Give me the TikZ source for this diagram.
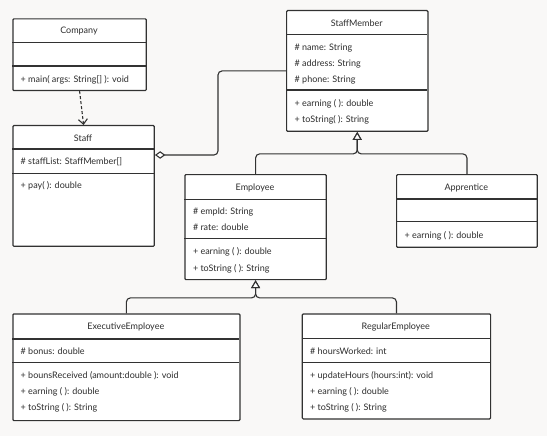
\documentclass[tikz,border=0pt]{standalone}
\usepackage{fontspec}
\setmainfont{Lato}
\usetikzlibrary{arrows.meta,positioning}
\definecolor{umlline}{RGB}{50,50,50}
\definecolor{umltext}{RGB}{45,45,45}
\definecolor{umlbg}{RGB}{249,248,247}
\tikzset{
  classbox/.style={draw=umlline, fill=white, line width=1.2pt, rounded corners=1pt, inner sep=0pt, anchor=north west},
  classname/.style={text=umltext, font=\fontsize{9}{10}\selectfont, inner sep=0pt, text height=1.5ex, text depth=0.3ex},
  member/.style={classname, anchor=west},
  divider/.style={draw=umlline, line width=1.2pt},
  link/.style={draw=umlline, line width=1.1pt, rounded corners=4pt},
}

\begin{document}
\begin{tikzpicture}[x=1pt,y=-1pt]
        \fill[umlbg] (0,0) rectangle (547,436);
        \useasboundingbox (0,0) rectangle (547,436);

        % Company
        \node[classbox, minimum width=133.4pt, minimum height=71.7pt] (company) at (12.3,18.3) {};
        \node[classname] (companyname) at (79,30.5) {Company};
        \draw[divider] (12.3,42.7) -- (145.7,42.7);
        \draw[divider] (12.3,66) -- (145.7,66);
        \node[member] (companyop) at (20.5,79.7) {+ main( args: String[] ): void};

        % Staff
        \node[classbox, minimum width=141.4pt, minimum height=120.7pt] (staff) at (12.3,125) {};
        \node[classname] (staffname) at (83,138) {Staff};
        \draw[divider] (12.3,149) -- (153.7,149);
        \draw[divider] (12.3,173.3) -- (153.7,173.3);
        \node[member] (staffattr) at (20.5,161.3) {\# staffList: StaffMember[]};
        \node[member] (staffop) at (20.5,185.7) {+ pay( ): double};

        % StaffMember
        \node[classbox, minimum width=141.3pt, minimum height=120.7pt] (staffmember) at (286,10) {};
        \node[classname] (staffmembername) at (356.7,23.3) {StaffMember};
        \draw[divider] (286,34.3) -- (427.3,34.3);
        \draw[divider] (286,90) -- (427.3,90);
        \foreach \txt [count=\i] in {\# name: String, \# address: String, \# phone: String}
            \node[member] (smattr\i) at (294.5,31.7+15.8*\i) {\txt};
        \foreach \txt [count=\i] in {+ earning ( ): double, + toString( ): String}
            \node[member] (smop\i) at (294.5,87.4+16*\i) {\txt};

        % Employee
        \node[classbox, minimum width=141.4pt, minimum height=105pt] (employee) at (184.3,174) {};
        \node[classname] (employeename) at (255,187.7) {Employee};
        \draw[divider] (184.3,199.3) -- (325.7,199.3);
        \draw[divider] (184.3,238.3) -- (325.7,238.3);
        \foreach \txt [count=\i] in {\# empId: String, \# rate: double}
            \node[member] (empattr\i) at (192.8,194.5+16.5*\i) {\txt};
        \foreach \txt [count=\i] in {+ earning ( ): double, + toString ( ): String}
            \node[member] (empop\i) at (192.8,235.3+16.4*\i) {\txt};

        % Apprentice
        \node[classbox, minimum width=140.7pt, minimum height=72.7pt] (apprentice) at (396,174) {};
        \node[classname] (apprenticename) at (466.3,187.7) {Apprentice};
        \draw[divider] (396,199) -- (536.7,199);
        \draw[divider] (396,221.7) -- (536.7,221.7);
        \node[member] (appop) at (404.5,235) {+ earning ( ): double};

        % ExecutiveEmployee
        \node[classbox, minimum width=227pt, minimum height=106.7pt] (executive) at (12.3,313.3) {};
        \node[classname] (executivename) at (125.8,326.7) {ExecutiveEmployee};
        \draw[divider] (12.3,339) -- (239.3,339);
        \draw[divider] (12.3,362.7) -- (239.3,362.7);
        \node[member] (execattr) at (20.5,351) {\# bonus: double};
        \foreach \txt [count=\i] in {+ bounsReceived (amount:double ): void, + earning ( ): double, + toString ( ): String}
            \node[member] (execop\i) at (20.5,360+15.7*\i) {\txt};

        % RegularEmployee
        \node[classbox, minimum width=188.3pt, minimum height=105pt] (regular) at (301.7,313.3) {};
        \node[classname] (regularname) at (395.8,326.7) {RegularEmployee};
        \draw[divider] (301.7,338.3) -- (490,338.3);
        \draw[divider] (301.7,362.7) -- (490,362.7);
        \node[member] (regattr) at (310,351) {\# hoursWorked: int};
        \foreach \txt [count=\i] in {+ updateHours (hours:int): void, + earning ( ): double, + toString ( ): String}
            \node[member] (regop\i) at (310,360+15.7*\i) {\txt};

        % relations
        \draw[link, dash pattern=on 3pt off 2pt, -{Straight Barb[length=5pt,width=9pt]}] (company.south) -- (staff.north);
        \draw[link, {Diamond[open,fill=white,length=10.5pt,width=7.5pt]}-] (staff.east |- 0,155) -- (218,155) |- (staffmember.west);
        \foreach \sub in {employee, apprentice}
            \draw[link, -{Triangle[open,fill=white,length=8pt,width=9pt]}] (\sub.north) |- ([yshift=-22pt]staffmember.south) -- (staffmember.south);
        \foreach \sub in {executive, regular}
            \draw[link, -{Triangle[open,fill=white,length=8pt,width=9pt]}] (\sub.north) |- ([yshift=-17.7pt]employee.south) -- (employee.south);
\end{tikzpicture}
\end{document}
